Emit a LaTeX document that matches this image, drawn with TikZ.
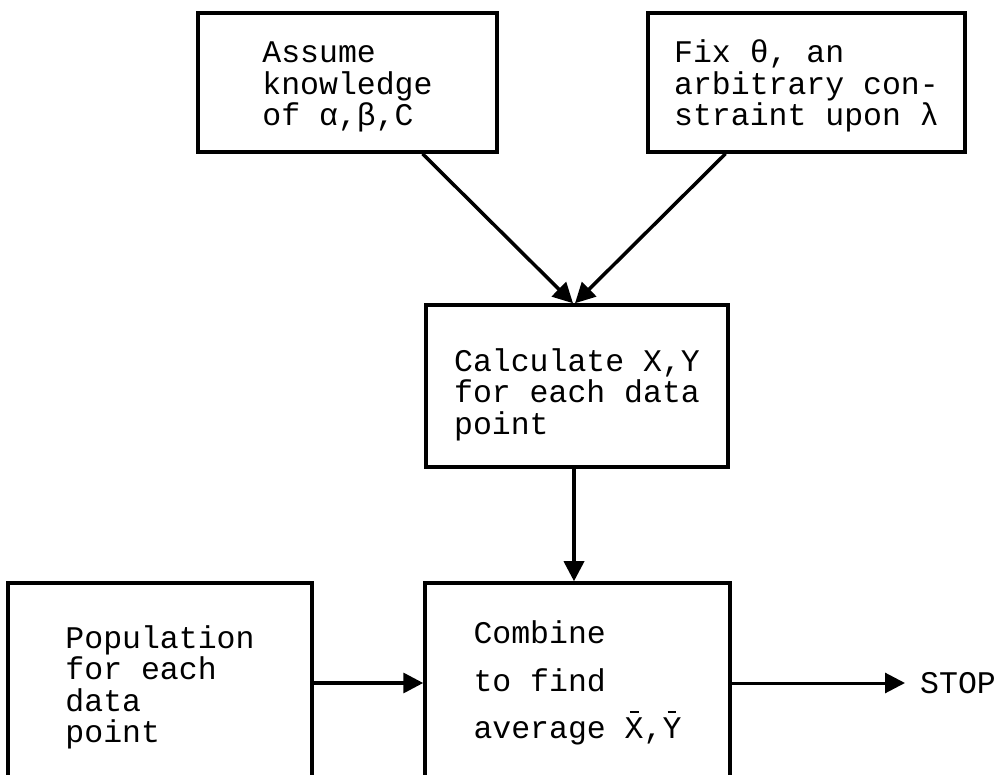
\documentclass[tikz,border=0pt]{standalone}
\usepackage{fontspec}
\newfontfamily\typewriter{Liberation Mono}
\usetikzlibrary{arrows.meta}
\newcommand\barred[1]{\ooalign{#1\cr\hidewidth\rule[0.8em]{0.28em}{0.09em}\hidewidth\cr}}
\newcommand\lift[1]{\rule{0pt}{#1}}
\tikzset{
  box/.style  = {draw, line width=3.5pt, align=left, inner sep=0pt,
                 font=\typewriter\fontsize{31.5}{31.5}\selectfont},
  wide/.style = {font=\typewriter\fontsize{31.5}{47.5}\selectfont},
  flow/.style = {line width=3.5pt, -{Triangle[length=20pt,width=20pt]}},
}
\begin{document}
\begin{tikzpicture}[x=1pt,y=-1pt]
        \useasboundingbox (0,0) rectangle (997,775);
        \clip (0,0) rectangle (997,775);
        \node[box, minimum width=299pt, minimum height=139pt] (assume) at (347.5, 82.5)
             {\lift{30pt}Assume\\knowledge\\of α,β,C};
        \node[box, minimum width=317pt, minimum height=139pt] (fix)    at (806.5, 82.5)
             {\lift{30pt}Fix θ, an\\arbitrary con-\\straint upon λ};
        \node[box, minimum width=302pt, minimum height=162pt] (calc)   at (577, 386)
             {\lift{40pt}Calculate X,Y\\for each data\\point};
        \node[box, minimum width=304pt, minimum height=200pt] (pop)    at (160, 683)
             {\lift{32pt}Population\\for each\\data\\point};
        \node[box, wide, minimum width=305pt, minimum height=200pt] (comb) at (577.5, 683)
             {Combine\\to find\\average \barred{X},\barred{Y}};
        \node[font=\typewriter\fontsize{31.5}{31.5}\selectfont, inner sep=0pt, anchor=west]
             (stop) at (920, 683) {STOP};
        \draw[flow] ([xshift=75pt]assume.south) -- ([xshift=-4pt]calc.north);
        \draw[flow] ([xshift=-81pt]fix.south)   -- ([xshift=-2pt]calc.north);
        \draw[flow] ([xshift=-3pt]calc.south)   -- ([xshift=-3pt]calc.south |- comb.north);
        \draw[flow] (pop.east)  -- (comb.west);
        \draw[flow, line width=3pt] (comb.east) -- ([xshift=-15pt]stop.west);
      \end{tikzpicture}
\end{document}
